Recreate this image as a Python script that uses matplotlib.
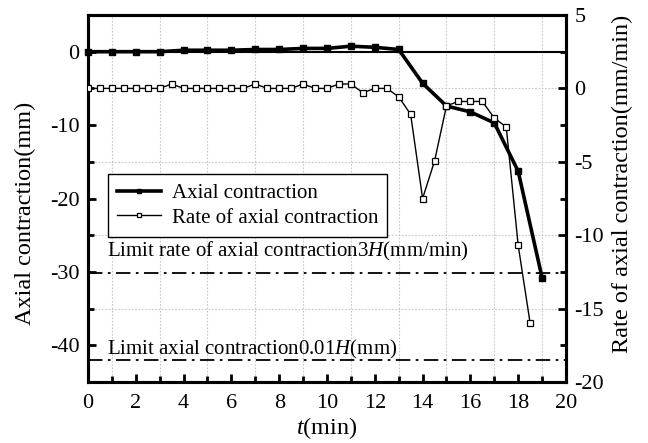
import matplotlib
matplotlib.use("Agg")
import matplotlib.pyplot as plt
from matplotlib.ticker import MultipleLocator
from matplotlib.lines import Line2D

plt.rcParams["font.family"] = ["Liberation Serif", "DejaVu Serif"]
plt.rcParams["mathtext.fontset"] = "custom"
plt.rcParams["mathtext.rm"] = "Liberation Serif"
plt.rcParams["mathtext.it"] = "Liberation Serif:italic"
plt.rcParams["axes.unicode_minus"] = False

# Axial contraction (mm), sampled every minute
t_axial = [0, 1, 2, 3, 4, 5, 6, 7, 8, 9, 10, 11, 12, 13, 14, 15, 16, 17, 18, 19]
axial = [0, 0, 0, 0, 0.2, 0.2, 0.2, 0.3, 0.3, 0.45, 0.45, 0.75, 0.6, 0.3,
         -4.3, -7.4, -8.2, -9.7, -16.3, -30.8]

# Rate of axial contraction (mm/min), sampled every half minute
t_rate = [0, 0.5, 1, 1.5, 2, 2.5, 3, 3.5, 4, 4.5, 5, 5.5, 6, 6.5, 7, 7.5, 8,
          8.5, 9, 9.5, 10, 10.5, 11, 11.5, 12, 12.5, 13, 13.5, 14, 14.5, 15,
          15.5, 16, 16.5, 17, 17.5, 18, 18.5]
rate = [0, 0, 0, 0, 0, 0, 0, 0.3, 0, 0, 0, 0, 0, 0, 0.3, 0, 0,
        0, 0.3, 0, 0, 0.3, 0.3, -0.3, 0, 0, -0.57, -1.77, -7.5, -4.95, -1.18,
        -0.89, -0.89, -0.89, -2.02, -2.63, -10.7, -16.0]

# Limits for H = 4200 mm
limit_contraction = -42.0   # 0.01H (mm)
limit_rate = -12.6          # 3H/1000 (mm/min)

fs_tick = 16
fs_label = 17.5
fs_text = 15

fig = plt.figure(figsize=(6.48, 4.43), dpi=100)
ax = fig.add_axes([88 / 648, 61 / 443, 478 / 648, 367 / 443])
ax2 = ax.twinx()

ax.set_xlim(0, 20)
ax.set_ylim(-45, 5)
ax2.set_ylim(-20, 5)

# dotted grid on the minor positions
for xv in range(1, 20, 2):
    ax.axvline(xv, color="#c8c8c8", lw=0.8, ls=(0, (1.5, 1.5)), zorder=0)
for yv in [-5, -15, -25, -35]:
    ax.axhline(yv, color="#c8c8c8", lw=0.8, ls=(0, (1.5, 1.5)), zorder=0)

ax.axhline(0, color="black", lw=1.5, zorder=1)
ax.axhline(limit_contraction, color="black", lw=1.3, ls=(0, (8, 3, 1.5, 3)), zorder=1)
ax2.axhline(limit_rate, color="black", lw=1.3, ls=(0, (8, 3, 1.5, 3)), zorder=1)

ax.plot(t_axial, axial, color="black", lw=2.6, marker="s", ms=5,
        mfc="black", mec="black", zorder=3, clip_on=False)
ax2.plot(t_rate, rate, color="black", lw=1.0, marker="s", ms=5,
         mfc="white", mec="black", mew=0.9, zorder=3)

ax.text(0.8, -27.2, "Limit rate of axial contraction3$H$(mm/min)",
        fontsize=fs_text, va="center", ha="left")
ax.text(0.8, -40.6, "Limit axial contraction0.01$H$(mm)",
        fontsize=fs_text, va="center", ha="left")

ax.xaxis.set_major_locator(MultipleLocator(2))
ax.xaxis.set_minor_locator(MultipleLocator(1))
ax.yaxis.set_major_locator(MultipleLocator(10))
ax.yaxis.set_minor_locator(MultipleLocator(5))
ax2.yaxis.set_major_locator(MultipleLocator(5))
ax2.yaxis.set_minor_locator(MultipleLocator(2.5))

for a in (ax, ax2):
    for s in a.spines.values():
        s.set_linewidth(2.2)
    a.tick_params(which="major", direction="in", length=6, width=2, labelsize=fs_tick)
    a.tick_params(which="minor", direction="in", length=4, width=2)
ax.tick_params(axis="x", which="both", top=False, pad=9)
ax.tick_params(axis="y", which="both", right=False, pad=6)
ax2.tick_params(axis="y", which="both", left=False, pad=6)

ax.set_xlabel("$t$(min)", fontsize=fs_label, labelpad=1)
ax.set_ylabel("Axial contraction(mm)", fontsize=fs_label)
ax.yaxis.set_label_coords(-0.108, 0.46)
ax2.set_ylabel("Rate of axial contraction(mm/min)", fontsize=fs_label)
ax2.yaxis.set_label_coords(1.095, 0.54)

handles = [
    Line2D([], [], color="black", lw=2.6, marker="s", ms=5, mfc="black"),
    Line2D([], [], color="black", lw=1.0, marker="s", ms=5, mfc="white", mew=0.9),
]
leg = ax2.legend(handles, ["Axial contraction", "Rate of axial contraction"],
                 loc="upper left", bbox_to_anchor=(0.042, 0.567),
                 borderaxespad=0, fancybox=False, framealpha=1,
                 edgecolor="black", fontsize=fs_text, handlelength=2.1,
                 labelspacing=0.25, borderpad=0.45, handletextpad=0.5,
                 markerscale=0.6)
leg.get_frame().set_linewidth(1.0)

fig.savefig("out.png", dpi=100)
